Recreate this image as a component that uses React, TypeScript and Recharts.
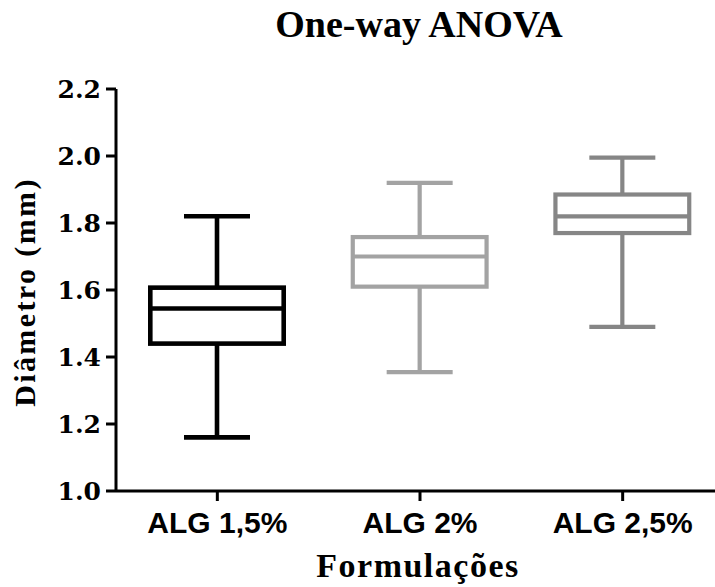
import React from "react";
import { ComposedChart, Bar, XAxis, YAxis, Label } from "recharts";

const categories = ["ALG 1,5%", "ALG 2%", "ALG 2,5%"];
const mins = [1.16, 1.355, 1.49];
const q1s = [1.44, 1.61, 1.77];
const medians = [1.545, 1.7, 1.82];
const q3s = [1.607, 1.758, 1.885];
const maxs = [1.82, 1.92, 1.995];
const yTicks = [1.0, 1.2, 1.4, 1.6, 1.8, 2.0, 2.2];

const BOX_COLORS = ["#000000", "#a3a3a3", "#868686"];
const BOX_STROKES = [4.6, 4.2, 4.2];
const CAP_HALF = 33;

const data = categories.map((name, i) => ({
  name,
  range: [mins[i], maxs[i]],
  min: mins[i],
  q1: q1s[i],
  median: medians[i],
  q3: q3s[i],
  max: maxs[i],
  idx: i,
}));

const serif = "'Liberation Serif', 'Times New Roman', serif";
const tickSerif = "'DejaVu Serif', serif";
const sans = "'Liberation Sans', Arial, sans-serif";

// draws one box from the range bar's pixel extent (max at top, min at bottom)
function BoxShape(props: any) {
  const { x, y, width, height, payload } = props;
  if (payload == null) return null;
  const top = Math.min(y, y + height);
  const bottom = Math.max(y, y + height);
  const { min, max, q1, q3, median, idx } = payload;
  const px = (v: number) => bottom - ((v - min) / (max - min)) * (bottom - top);
  const color = BOX_COLORS[idx];
  const sw = BOX_STROKES[idx];
  const cx = x + width / 2;
  const left = x + sw / 2;
  const right = x + width - sw / 2;
  return (
    <g stroke={color} strokeWidth={sw} fill="none">
      <line x1={cx} x2={cx} y1={px(max)} y2={px(q3)} />
      <line x1={cx} x2={cx} y1={px(q1)} y2={px(min)} />
      <line x1={cx - CAP_HALF} x2={cx + CAP_HALF} y1={px(max)} y2={px(max)} />
      <line x1={cx - CAP_HALF} x2={cx + CAP_HALF} y1={px(min)} y2={px(min)} />
      <rect x={left} y={px(q3)} width={right - left} height={px(q1) - px(q3)} fill="#ffffff" />
      <line x1={left} x2={right} y1={px(median)} y2={px(median)} />
    </g>
  );
}

export default function App() {
  return (
    <div
      style={{
        position: "absolute",
        left: 0,
        top: 0,
        width: 715,
        height: 587,
        overflow: "hidden",
        background: "#ffffff",
      }}
    >
      <div
        style={{
          position: "absolute",
          left: 219,
          top: 6,
          width: 400,
          textAlign: "center",
          fontFamily: serif,
          fontWeight: "bold",
          fontSize: 38,
          lineHeight: "36px",
          color: "#000",
        }}
      >
        One-way ANOVA
      </div>
      <ComposedChart
        width={730}
        height={587}
        data={data}
        margin={{ top: 89, right: 6, bottom: 0, left: 0 }}
      >
        <XAxis
          dataKey="name"
          type="category"
          tickSize={10}
          tickMargin={11}
          axisLine={{ stroke: "#000", strokeWidth: 3 }}
          tickLine={{ stroke: "#000", strokeWidth: 3 }}
          tick={{ fill: "#000", fontFamily: sans, fontWeight: "bold", fontSize: 30 }}
          height={96}
        >
          <Label
            content={(p: any) => {
              const vb = p.viewBox || { x: 116, width: 608, y: 491 };
              return (
                <text
                  x={vb.x + vb.width / 2 - 2}
                  y={577}
                  textAnchor="middle"
                  fontFamily={serif}
                  fontWeight="bold"
                  fontSize={34}
                  letterSpacing={1.5}
                  fill="#000"
                >
                  Formulações
                </text>
              );
            }}
          />
        </XAxis>
        <YAxis
          type="number"
          domain={[1.0, 2.2]}
          ticks={yTicks}
          interval={0}
          width={116}
          tickSize={10}
          tickMargin={5}
          tickFormatter={(v: number) => v.toFixed(1)}
          axisLine={{ stroke: "#000", strokeWidth: 3 }}
          tickLine={{ stroke: "#000", strokeWidth: 3 }}
          tick={{ fill: "#000", fontFamily: tickSerif, fontWeight: "bold", fontSize: 25 }}
        >
          <Label
            content={() => (
              <text
                x={35}
                y={292}
                transform="rotate(-90, 35, 292)"
                textAnchor="middle"
                fontFamily={serif}
                fontWeight="bold"
                fontSize={30}
                letterSpacing={2.4}
                fill="#000"
              >
                Diâmetro (mm)
              </text>
            )}
          />
        </YAxis>
        <Bar dataKey="range" barSize={138} shape={BoxShape} isAnimationActive={false} />
      </ComposedChart>
    </div>
  );
}
